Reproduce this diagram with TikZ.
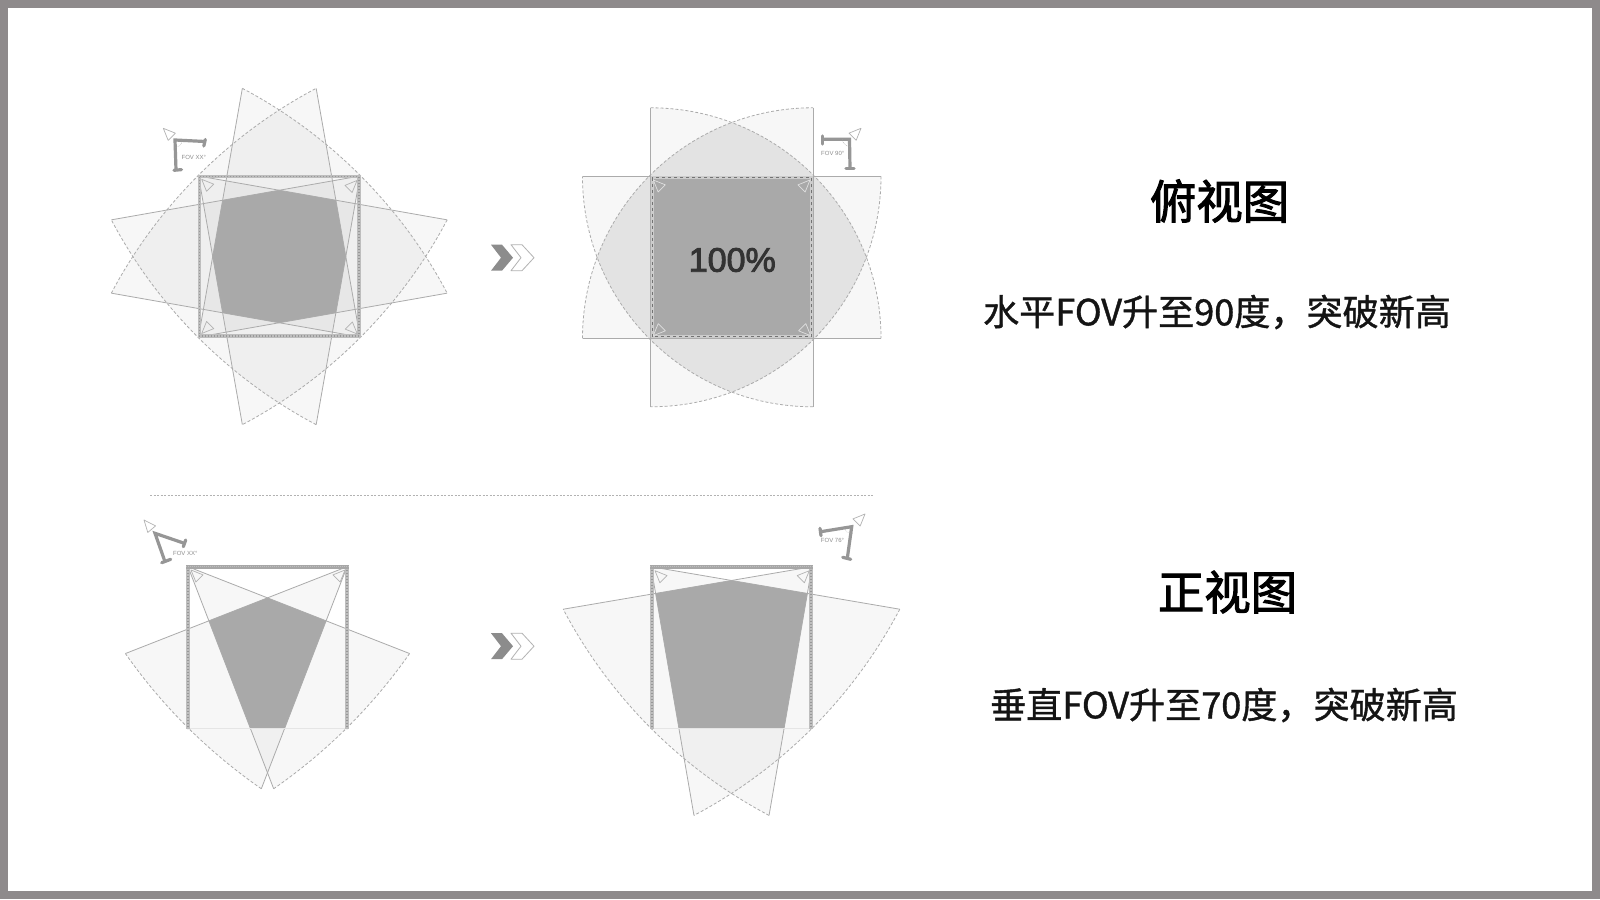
\documentclass[tikz,border=0pt]{standalone}
\usepackage{fontspec}
\usepackage{xcolor}
\setmainfont{Noto Sans CJK SC}
\newfontfamily\headfont[FakeBold=2.2]{Noto Sans CJK SC}
\newfontfamily\notefont[FakeBold=1.1]{Noto Sans CJK SC}
\newfontfamily\labelfont{Liberation Sans}
\newfontfamily\percentfont[FakeBold=2.6]{Liberation Sans}
\usepackage{tikz}
\definecolor{framegray}{HTML}{8E8A8B}
\definecolor{coregray}{HTML}{A9A9A9}
\definecolor{lensgray}{HTML}{E3E3E3}
\definecolor{tipgray}{HTML}{F0F0F0}
\definecolor{rimgray}{HTML}{ABABAB}
\definecolor{wallgray}{HTML}{BEBEBE}
\definecolor{grain}{HTML}{989898}
\definecolor{lampgray}{HTML}{969696}
\tikzset{
  wedgefill/.style={fill=black,fill opacity=0.03},
  rimedge/.style={draw=rimgray,line width=0.8pt},
  rimarc/.style={draw=rimgray,line width=0.8pt,dash pattern=on 3pt off 2pt},
  wall/.style={draw=wallgray,line width=3.4pt,postaction={draw=grain,line width=1.2pt,dash pattern=on 1pt off 2pt}},
  darkwall/.style={draw=black!20,line width=3pt,postaction={draw=black!55,line width=1pt,dash pattern=on 3pt off 3pt}},
  topwall/.style={draw=grain!85,line width=3.8pt,postaction={draw=wallgray,line width=1.2pt,dash pattern=on 1pt off 1pt}},
  floorline/.style={draw=black!10,line width=1.2pt},
  camtri/.style={draw=black!30,line width=0.7pt,line join=round},
  camtrilight/.style={draw=black!12,line width=0.7pt,line join=round},
  lampbar/.style={draw=lampgray,line width=3.2pt},
  lampcap/.style={draw=lampgray,line width=3.2pt,line cap=round},
  lamparc/.style={draw=black!35,line width=0.5pt,densely dotted},
  fovlabel/.style={font=\labelfont\fontsize{6}{6}\selectfont,text=black!45,inner sep=0pt},
  headline/.style={font=\headfont\fontsize{46.4}{46.4}\selectfont,text=black,inner sep=0pt},
  subline/.style={font=\notefont\fontsize{36.1}{36.1}\selectfont,text=black!92,inner sep=0pt},
}
% #1,#2 apex, #3 side length, #4,#5 angles, #6 half angle of the far edge
\newcommand{\fovpath}[6]{(#1,#2) -- ++(#4:#3) arc[start angle={(#4+#5)/2-#6},end angle={(#4+#5)/2+#6},radius={#3*sin((#5-#4)/2)/sin(#6)}] -- cycle}
\newcommand{\fovrim}[6]{
  \draw[rimedge] (#1,#2) ++(#4:#3) -- (#1,#2) -- ++(#5:#3);
  \draw[rimarc] (#1,#2) ++(#4:#3) arc[start angle={(#4+#5)/2-#6},end angle={(#4+#5)/2+#6},radius={#3*sin((#5-#4)/2)/sin(#6)}];
}
\newcommand{\camera}[4][camtri]{\draw[#1] (#2,#3) -- +(#4-23:13) -- +(#4+23:13) -- cycle;}
\newcommand{\chevrons}[1]{
  \fill[black!45] (491,#1-13) -- (502,#1-13) -- (513,#1) -- (502,#1+13) -- (491,#1+13) -- (501,#1) -- cycle;
  \draw[black!30,line width=0.8pt,line join=round] (511,#1-13) -- (522,#1-13) -- (534,#1) -- (522,#1+13) -- (511,#1+13) -- (521,#1) -- cycle;
}
\begin{document}
\begin{tikzpicture}[x=1pt,y=-1pt]
\useasboundingbox (0,0) rectangle (1600,899);
\draw[draw=framegray,line width=8pt,fill=white] (4,4) rectangle (1596,895);

% top view, before
\def\fova{\fovpath{198.5}{176}{252.5}{10}{80}{17.1}}
\def\fovb{\fovpath{360}{176}{252.5}{100}{170}{17.1}}
\def\fovc{\fovpath{198.5}{337}{252.5}{280}{350}{17.1}}
\def\fovd{\fovpath{360}{337}{252.5}{190}{260}{17.1}}
\fill[wedgefill] \fova;
\fill[wedgefill] \fovb;
\fill[wedgefill] \fovc;
\fill[wedgefill] \fovd;
\begin{scope}
  \clip \fova; \clip \fovb; \clip \fovc; \clip \fovd;
  \fill[coregray] (100,80) rectangle (460,430);
\end{scope}
\fovrim{198.5}{176}{252.5}{10}{80}{17.1}
\fovrim{360}{176}{252.5}{100}{170}{17.1}
\fovrim{198.5}{337}{252.5}{280}{350}{17.1}
\fovrim{360}{337}{252.5}{190}{260}{17.1}
\draw[wall] (199.2,176.7) rectangle (359,336);
\camera{201.7}{179.3}{45}
\camera{357}{180.5}{135}
\camera{201.7}{333.5}{-45}
\camera{357.3}{334}{225}
\camera{163.3}{128.3}{45}
\draw[lampbar] (205,141.5) -- (175,140) -- (176,170);
\draw[lampcap] (205.3,139.5) -- (203.8,146);
\draw[lampcap] (174,170.3) -- (181.5,169.6);
\draw[lamparc] (182,140.4) arc[start angle=0,end angle=90,radius=7];
\node[fovlabel] (fovtopa) at (193.8,157.5) {FOV XX°};

% top view, after
\def\fova{\fovpath{650.5}{176.3}{230.5}{0}{90}{45}}
\def\fovb{\fovpath{813}{176.3}{230.5}{90}{180}{45}}
\def\fovc{\fovpath{650.5}{338.3}{230.5}{270}{360}{45}}
\def\fovd{\fovpath{813}{338.3}{230.5}{180}{270}{45}}
\fill[wedgefill] \fova;
\fill[wedgefill] \fovb;
\fill[wedgefill] \fovc;
\fill[wedgefill] \fovd;
\begin{scope}
  \clip \fova; \clip \fovb;
  \fill[lensgray] (570,100) rectangle (890,420);
\end{scope}
\begin{scope}
  \clip \fovb; \clip \fovd;
  \fill[lensgray] (570,100) rectangle (890,420);
\end{scope}
\begin{scope}
  \clip \fovc; \clip \fovd;
  \fill[lensgray] (570,100) rectangle (890,420);
\end{scope}
\begin{scope}
  \clip \fova; \clip \fovc;
  \fill[lensgray] (570,100) rectangle (890,420);
\end{scope}
\fill[coregray] (650.5,176.3) rectangle (813,338.3);
\fovrim{650.5}{176.3}{230.5}{0}{90}{45}
\fovrim{813}{176.3}{230.5}{90}{180}{45}
\fovrim{650.5}{338.3}{230.5}{270}{360}{45}
\fovrim{813}{338.3}{230.5}{180}{270}{45}
\draw[darkwall] (652,177.8) rectangle (811.5,336.8);
\camera[camtrilight]{653.3}{180}{45}
\camera[camtrilight]{810}{180}{135}
\camera[camtrilight]{653.3}{335.7}{-45}
\camera[camtrilight]{810.7}{335.7}{225}
\node[font=\percentfont\fontsize{34}{34}\selectfont,text=black!80,inner sep=0pt] (fullcover) at (732.3,260) {100\%};
\camera{861}{128.3}{135}
\draw[lampbar] (822.3,139.3) -- (849.5,139.3) -- (850,168.3);
\draw[lampcap] (822.3,136) -- (822.3,144);
\draw[lampcap] (846,168.3) -- (854,168.3);
\draw[lamparc] (842.5,139.3) arc[start angle=180,end angle=90,radius=7];
\node[fovlabel] (fovtopb) at (832.7,153.3) {FOV 90°};

\chevrons{257.7}

% divider
\draw[black!30,line width=0.6pt,dash pattern=on 2pt off 1.5pt] (150,495.5) -- (874.5,495.5);

% front view, before
\def\fova{\fovpath{188}{566.7}{238}{21.4}{68.9}{10.1}}
\def\fovb{\fovpath{347}{566.7}{238}{111.1}{158.6}{10.1}}
\fill[wedgefill] \fova;
\fill[wedgefill] \fovb;
\begin{scope}
  \clip \fova; \clip \fovb;
  \fill[tipgray] (120,560) rectangle (420,800);
  \fill[coregray] (120,560) rectangle (420,728.7);
\end{scope}
\fovrim{188}{566.7}{238}{21.4}{68.9}{10.1}
\fovrim{347}{566.7}{238}{111.1}{158.6}{10.1}
\draw[floorline] (188,728.7) -- (347,728.7);
\draw[wall] (188,566.7) -- (188,728.7);
\draw[wall] (347,566.7) -- (347,728.7);
\draw[topwall] (186.2,566.7) -- (348.8,566.7);
\camera{191}{570}{45}
\camera{345}{570}{135}
\camera{144}{520}{50}
\draw[lampbar] (184.3,543.3) -- (155,533.3) -- (165,561.7);
\draw[lampcap] (185.7,540) -- (183.3,546.7);
\draw[lampcap] (161.7,562.7) -- (170.7,559.3);
\node[fovlabel] (fovfronta) at (185.3,553.5) {FOV XX°};

\chevrons{646.2}

% front view, after
\def\fova{\fovpath{651}{566.7}{252.4}{9.7}{80.2}{17.2}}
\def\fovb{\fovpath{812}{566.7}{252.4}{99.8}{170.3}{17.2}}
\fill[wedgefill] \fova;
\fill[wedgefill] \fovb;
\begin{scope}
  \clip \fova; \clip \fovb;
  \fill[tipgray] (550,560) rectangle (910,830);
  \fill[coregray] (550,560) rectangle (910,728.7);
\end{scope}
\fovrim{651}{566.7}{252.4}{9.7}{80.2}{17.2}
\fovrim{812}{566.7}{252.4}{99.8}{170.3}{17.2}
\draw[floorline] (651,728.7) -- (812,728.7);
\draw[wall] (652,566.7) -- (652,728.7);
\draw[wall] (811,566.7) -- (811,728.7);
\draw[topwall] (650.2,566.7) -- (812.8,566.7);
\camera{655}{570.7}{45}
\camera{809.3}{570.7}{135}
\camera{865}{514}{135}
\draw[lampbar] (820.7,531.7) -- (851.7,526.7) -- (847.3,558.3);
\draw[lampcap] (820,528.3) -- (821,535.7);
\draw[lampcap] (842.7,557.3) -- (850.7,559.3);
\draw[lamparc] (844.5,527.8) arc[start angle=170,end angle=80,radius=7];
\node[fovlabel] (fovfrontb) at (832.5,540.7) {FOV 76°};

% captions
\node[headline] (toptitle) at (1219.5,201) {俯视图};
\node[subline] (topnote) at (1217,312) {水平FOV升至90度，突破新高};
\node[headline] (fronttitle) at (1227.5,592) {正视图};
\node[subline] (frontnote) at (1224,705) {垂直FOV升至70度，突破新高};
\end{tikzpicture}
\end{document}
